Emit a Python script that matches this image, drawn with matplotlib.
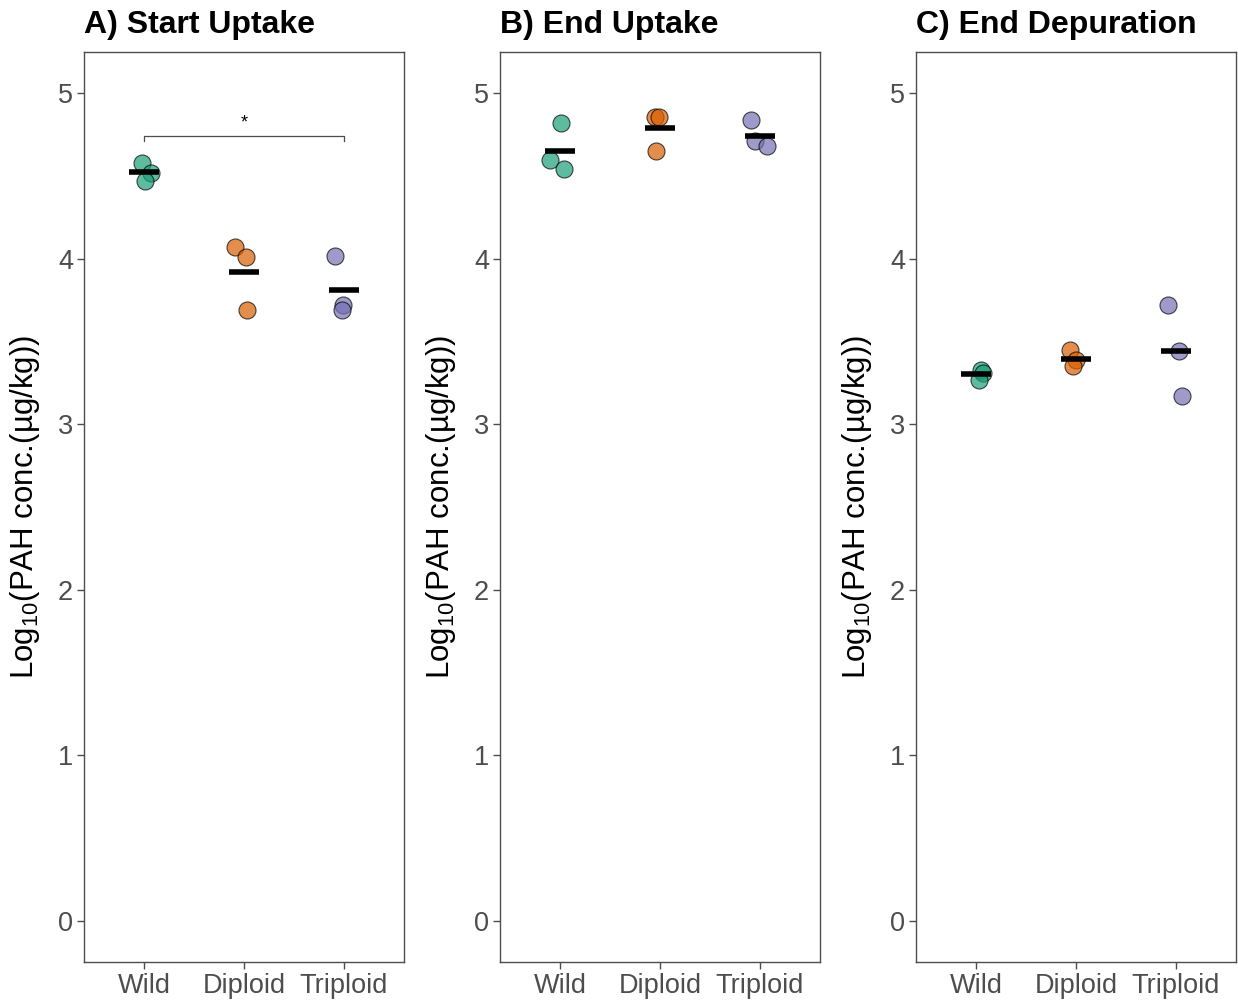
import matplotlib
matplotlib.use("Agg")
import matplotlib.pyplot as plt
import numpy as np

plt.rcParams["font.family"] = ["Liberation Sans", "DejaVu Sans"]
plt.rcParams["mathtext.default"] = "regular"

groups = ["Wild", "Diploid", "Triploid"]
colors = ["#1B9E77", "#D95F02", "#7570B3"]
titles = ["A) Start Uptake", "B) End Uptake", "C) End Depuration"]

# log10 PAH concentration, three replicates per group
start_uptake = [[4.58, 4.52, 4.47], [4.07, 4.01, 3.69], [4.02, 3.72, 3.69]]
end_uptake = [[4.82, 4.60, 4.54], [4.86, 4.86, 4.65], [4.84, 4.71, 4.68]]
end_depuration = [[3.33, 3.31, 3.27], [3.45, 3.39, 3.35], [3.72, 3.44, 3.17]]
panels = [start_uptake, end_uptake, end_depuration]

# horizontal jitter
jitter = [
    [[-0.02, 0.07, 0.01], [-0.09, 0.02, 0.03], [-0.09, -0.01, -0.02]],
    [[0.01, -0.10, 0.04], [-0.05, -0.01, -0.04], [-0.09, -0.05, 0.07]],
    [[0.05, 0.07, 0.03], [-0.06, 0.00, -0.03], [-0.08, 0.03, 0.06]],
]

W, H = 1238, 1001
fig = plt.figure(figsize=(W / 100, H / 100), dpi=100)
lefts = [84, 500, 916]
ax_w, top, bottom = 320, 52, 962

for k, data in enumerate(panels):
    ax = fig.add_axes([lefts[k] / W, 1 - bottom / H, ax_w / W, (bottom - top) / H])
    for i, vals in enumerate(data):
        xs = i + 1 + np.array(jitter[k][i])
        ax.scatter(xs, vals, s=150, color=colors[i], alpha=0.7,
                   edgecolor="black", linewidth=0.8, zorder=3)
        m = np.mean(vals)
        ax.plot([i + 1 - 0.15, i + 1 + 0.15], [m, m], color="black", lw=4,
                solid_capstyle="butt", zorder=4)
    ax.set_xlim(0.4, 3.6)
    ax.set_ylim(-0.25, 5.25)
    ax.set_xticks([1, 2, 3])
    ax.set_xticklabels(groups)
    ax.set_yticks(range(6))
    ax.tick_params(axis="both", labelsize=19.5, colors="#4D4D4D", length=5,
                   width=1, direction="out", labelcolor="#4D4D4D", pad=3)
    for sp in ax.spines.values():
        sp.set_color("#4D4D4D")
        sp.set_linewidth(1)
    ax.set_ylabel("Log$_{10}$(PAH conc.(µg/kg))", fontsize=22.5)
    ax.yaxis.set_label_coords(-0.13, 0.5)
    ax.set_title(titles[k], loc="left", fontsize=23, fontweight="bold", pad=14)

    if k == 0:
        y0 = 4.74
        ax.plot([1, 1, 3, 3], [y0 - 0.03, y0, y0, y0 - 0.03], color="#4D4D4D", lw=0.9)
        ax.text(2, y0 + 0.03, "*", ha="center", va="bottom", fontsize=13)

fig.savefig("out.png", dpi=100)
